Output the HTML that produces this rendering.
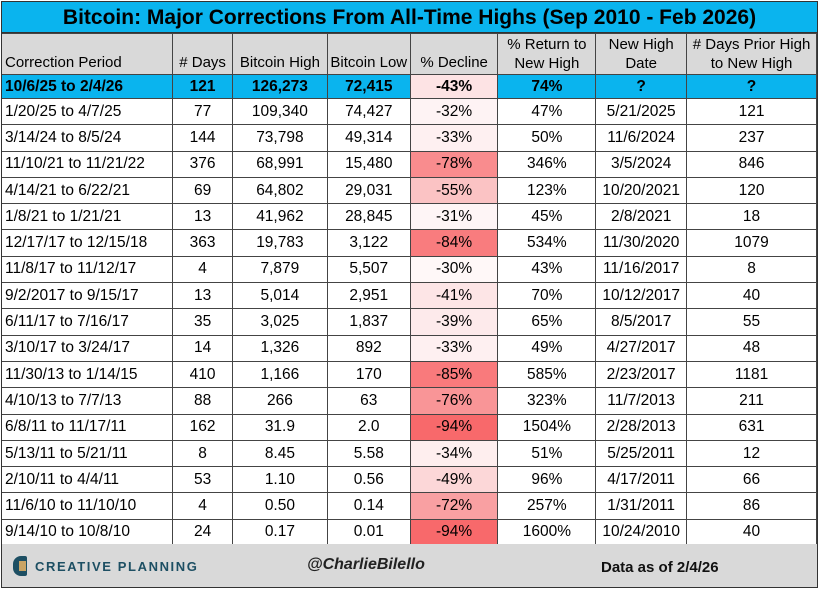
<!DOCTYPE html><html><head><style>
body{margin:0;width:821px;height:590px;background:#fff;font-family:"Liberation Sans",Arial,sans-serif;overflow:hidden}
.w{position:absolute;left:1px;top:1px;width:817px;height:587px;border:1px solid #333;box-sizing:border-box;}
.t{position:absolute;left:0;top:0;width:815px;height:30px;background:#0ab4ee;border-bottom:1px solid #333;text-align:center;font-weight:bold;font-size:21px;line-height:31px;color:#000}
table{position:absolute;left:0;top:31px;border-collapse:collapse;table-layout:fixed;font-size:15.5px}
td{border:1px solid #444;text-align:center;padding:0;white-space:nowrap;overflow:hidden}
tr.h td{background:#d9d9d9;height:38px;line-height:19px;font-size:15px}
tr.h td:first-child{text-align:left;vertical-align:bottom;padding-left:3px;padding-bottom:2px}
tr.r td{height:25.3px}
tr.hl td{background:#0ab4ee;font-weight:bold;height:23px}
td.p{text-align:left;padding-left:3px}
td:first-child{border-left:none}
.f{position:absolute;left:0;top:542px;width:815px;height:43px;background:#d9d9d9}
</style></head><body><div class="w">
<div class="t">Bitcoin: Major Corrections From All-Time Highs (Sep 2010 - Feb 2026)</div>
<table>
<colgroup><col style="width:171px"><col style="width:60px"><col style="width:95px"><col style="width:83px"><col style="width:88px"><col style="width:98px"><col style="width:91px"><col style="width:130px"></colgroup>
<tr class="h"><td>Correction Period</td><td style="vertical-align:bottom;padding-bottom:2px"># Days</td><td style="vertical-align:bottom;padding-bottom:2px">Bitcoin High</td><td style="vertical-align:bottom;padding-bottom:2px">Bitcoin Low</td><td style="vertical-align:bottom;padding-bottom:2px">% Decline</td><td>% Return to<br>New High</td><td>New High<br>Date</td><td># Days Prior High<br>to New High</td></tr>
<tr class="r hl"><td class="p">10/6/25 to 2/4/26</td><td>121</td><td>126,273</td><td>72,415</td><td style="background:#fde3e4">-43%</td><td>74%</td><td>?</td><td>?</td></tr>
<tr class="r"><td class="p">1/20/25 to 4/7/25</td><td>77</td><td>109,340</td><td>74,427</td><td style="background:#fef3f4">-32%</td><td>47%</td><td>5/21/2025</td><td>121</td></tr>
<tr class="r"><td class="p">3/14/24 to 8/5/24</td><td>144</td><td>73,798</td><td>49,314</td><td style="background:#fef0f1">-33%</td><td>50%</td><td>11/6/2024</td><td>237</td></tr>
<tr class="r"><td class="p">11/10/21 to 11/21/22</td><td>376</td><td>68,991</td><td>15,480</td><td style="background:#f98c8e">-78%</td><td>346%</td><td>3/5/2024</td><td>846</td></tr>
<tr class="r"><td class="p">4/14/21 to 6/22/21</td><td>69</td><td>64,802</td><td>29,031</td><td style="background:#fbc3c4">-55%</td><td>123%</td><td>10/20/2021</td><td>120</td></tr>
<tr class="r"><td class="p">1/8/21 to 1/21/21</td><td>13</td><td>41,962</td><td>28,845</td><td style="background:#fef5f6">-31%</td><td>45%</td><td>2/8/2021</td><td>18</td></tr>
<tr class="r"><td class="p">12/17/17 to 12/15/18</td><td>363</td><td>19,783</td><td>3,122</td><td style="background:#f97c7e">-84%</td><td>534%</td><td>11/30/2020</td><td>1079</td></tr>
<tr class="r"><td class="p">11/8/17 to 11/12/17</td><td>4</td><td>7,879</td><td>5,507</td><td style="background:#fff8f8">-30%</td><td>43%</td><td>11/16/2017</td><td>8</td></tr>
<tr class="r"><td class="p">9/2/2017 to 9/15/17</td><td>13</td><td>5,014</td><td>2,951</td><td style="background:#fde5e6">-41%</td><td>70%</td><td>10/12/2017</td><td>40</td></tr>
<tr class="r"><td class="p">6/11/17 to 7/16/17</td><td>35</td><td>3,025</td><td>1,837</td><td style="background:#fdeaeb">-39%</td><td>65%</td><td>8/5/2017</td><td>55</td></tr>
<tr class="r"><td class="p">3/10/17 to 3/24/17</td><td>14</td><td>1,326</td><td>892</td><td style="background:#fef0f1">-33%</td><td>49%</td><td>4/27/2017</td><td>48</td></tr>
<tr class="r"><td class="p">11/30/13 to 1/14/15</td><td>410</td><td>1,166</td><td>170</td><td style="background:#f97a7c">-85%</td><td>585%</td><td>2/23/2017</td><td>1181</td></tr>
<tr class="r"><td class="p">4/10/13 to 7/7/13</td><td>88</td><td>266</td><td>63</td><td style="background:#f99597">-76%</td><td>323%</td><td>11/7/2013</td><td>211</td></tr>
<tr class="r"><td class="p">6/8/11 to 11/17/11</td><td>162</td><td>31.9</td><td>2.0</td><td style="background:#f8696b">-94%</td><td>1504%</td><td>2/28/2013</td><td>631</td></tr>
<tr class="r"><td class="p">5/13/11 to 5/21/11</td><td>8</td><td>8.45</td><td>5.58</td><td style="background:#feeeee">-34%</td><td>51%</td><td>5/25/2011</td><td>12</td></tr>
<tr class="r"><td class="p">2/10/11 to 4/4/11</td><td>53</td><td>1.10</td><td>0.56</td><td style="background:#fcd7d8">-49%</td><td>96%</td><td>4/17/2011</td><td>66</td></tr>
<tr class="r"><td class="p">11/6/10 to 11/10/10</td><td>4</td><td>0.50</td><td>0.14</td><td style="background:#f9a0a2">-72%</td><td>257%</td><td>1/31/2011</td><td>86</td></tr>
<tr class="r"><td class="p">9/14/10 to 10/8/10</td><td>24</td><td>0.17</td><td>0.01</td><td style="background:#f8696b">-94%</td><td>1600%</td><td>10/24/2010</td><td>40</td></tr>
</table>
<div class="f">
<div style="position:absolute;left:11px;top:12px;width:14px;height:20px;background:#1d4f63;border-radius:8px 2px 2px 8px"></div>
<div style="position:absolute;left:17px;top:17px;width:7px;height:10px;background:#c9a464"></div>
<div style="position:absolute;left:33px;top:15px;font-size:13px;font-weight:bold;letter-spacing:1.6px;color:#1d4f63">CREATIVE PLANNING</div>
<div style="position:absolute;left:305px;top:12px;font-size:16px;font-style:italic;font-weight:bold;color:#222">@CharlieBilello</div>
<div style="position:absolute;left:599px;top:15px;font-size:15px;font-weight:bold;color:#111">Data as of 2/4/26</div>
</div>
</div></body></html>
